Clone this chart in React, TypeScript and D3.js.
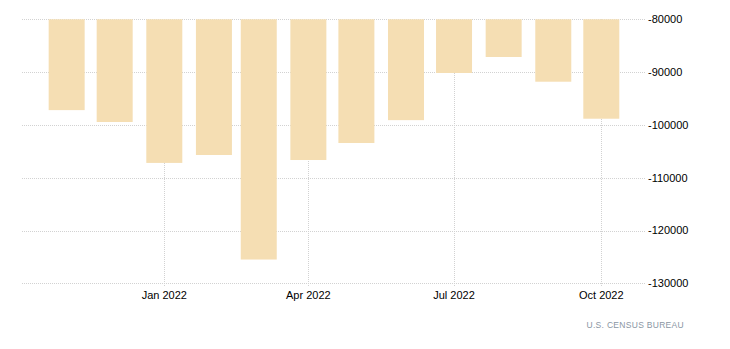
import React from "react";
import * as d3 from "d3";

const months = ["2021-11-01","2021-12-01","2022-01-01","2022-02-01","2022-03-01","2022-04-01","2022-05-01","2022-06-01","2022-07-01","2022-08-01","2022-09-01","2022-10-01"];
const values = [-97200,-99450,-107200,-105700,-125500,-106650,-103430,-99100,-90170,-87140,-91820,-98830];
const xTickDates = ["2022-01-01","2022-04-01","2022-07-01","2022-10-01"];
const xTickLabels = ["Jan 2022","Apr 2022","Jul 2022","Oct 2022"];
const yTicks = [-80000,-90000,-100000,-110000,-120000,-130000];
const source = "U.S.  CENSUS BUREAU";

const W = 730, H = 349;
const left = 22, right = 645;

export default function App() {
  const parse = d3.utcParse("%Y-%m-%d");
  const x = d3.scaleUtc()
    .domain([parse("2022-01-01")!, parse("2022-10-01")!])
    .range([164.3, 601.3]);
  const y = d3.scaleLinear().domain([-80000, -130000]).range([19.3, 283.3]);
  const bw = 36;
  const font = "'Liberation Sans', Arial, sans-serif";
  return (
    <svg width={W} height={H} style={{ position: "absolute", left: 0, top: 0, background: "#fff" }}>
      <g>
        {yTicks.map((t) => (
          <line key={t} x1={left} x2={right} y1={Math.round(y(t)) + 0.5} y2={Math.round(y(t)) + 0.5}
            stroke="#d2d2d2" strokeWidth={1} strokeDasharray="1,1" />
        ))}
        {xTickDates.map((d) => {
          const xx = Math.round(x(parse(d)!)) + 0.5;
          return <line key={d} x1={xx} x2={xx} y1={19} y2={287} stroke="#d2d2d2" strokeWidth={1} strokeDasharray="1,1" />;
        })}
      </g>
      <g>
        {months.map((m, i) => {
          const cx = x(parse(m)!);
          const y0 = y(-80000);
          const y1 = y(values[i]);
          return <rect key={m} x={cx - bw / 2} y={y0} width={bw} height={y1 - y0} fill="#f5deb3" />;
        })}
      </g>
      <g fontFamily={font} fontSize={11} fill="#000">
        {yTicks.map((t) => (
          <text key={t} x={648} y={y(t)} dy="0.35em">{String(t)}</text>
        ))}
        {xTickDates.map((d, i) => (
          <text key={d} x={x(parse(d)!)} y={295} dy="0.35em" textAnchor="middle">{xTickLabels[i]}</text>
        ))}
      </g>
      <text x={684} y={325} dy="0.35em" textAnchor="end" fontFamily={font} fontSize={8.5} fill="#8a96a3" letterSpacing="0.3">{source}</text>
    </svg>
  );
}
